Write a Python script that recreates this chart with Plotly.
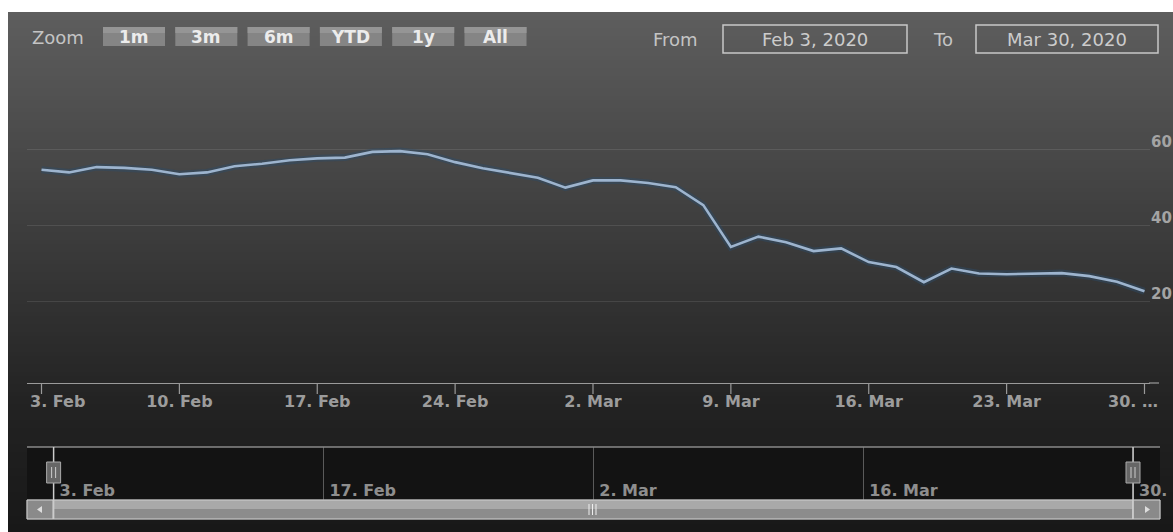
import plotly.graph_objects as go

# ---------------- data ----------------
dates = [
    "2020-02-03", "2020-02-04", "2020-02-05", "2020-02-06", "2020-02-07",
    "2020-02-10", "2020-02-11", "2020-02-12", "2020-02-13", "2020-02-14",
    "2020-02-17", "2020-02-18", "2020-02-19", "2020-02-20", "2020-02-21",
    "2020-02-24", "2020-02-25", "2020-02-26", "2020-02-27", "2020-02-28",
    "2020-03-02", "2020-03-03", "2020-03-04", "2020-03-05", "2020-03-06",
    "2020-03-09", "2020-03-10", "2020-03-11", "2020-03-12", "2020-03-13",
    "2020-03-16", "2020-03-17", "2020-03-18", "2020-03-19", "2020-03-20",
    "2020-03-23", "2020-03-24", "2020-03-25", "2020-03-26", "2020-03-27",
    "2020-03-30",
]
values = [
    54.8, 54.1, 55.5, 55.3, 54.8,
    53.6, 54.1, 55.7, 56.4, 57.3,
    57.8, 58.0, 59.5, 59.7, 58.9,
    56.8, 55.2, 53.9, 52.7, 50.1,
    52.0, 52.0, 51.3, 50.2, 45.5,
    34.5, 37.2, 35.7, 33.4, 34.1,
    30.5, 29.2, 25.2, 28.8, 27.5,
    27.3, 27.4, 27.6, 26.8, 25.3,
    22.8,
]
x_tick_dates = ["2020-02-03", "2020-02-10", "2020-02-17", "2020-02-24", "2020-03-02",
                "2020-03-09", "2020-03-16", "2020-03-23", "2020-03-30"]
x_tick_labels = ["3. Feb", "10. Feb", "17. Feb", "24. Feb", "2. Mar",
                 "9. Mar", "16. Mar", "23. Mar", "30. …"]
y_ticks = [20, 40, 60]
y_tick_labels = ["20", "40", "60"]
nav_tick_dates = ["2020-02-03", "2020-02-17", "2020-03-02", "2020-03-16", "2020-03-30"]
nav_tick_labels = ["3. Feb", "17. Feb", "2. Mar", "16. Mar", "30."]
zoom_buttons = ["1m", "3m", "6m", "YTD", "1y", "All"]
from_text = "Feb 3, 2020"
to_text = "Mar 30, 2020"

# ---------------- helpers ----------------
W, H = 1173, 532
FONT = "DejaVu Sans"
AXIS_FONT = dict(family=FONT, size=16, color="#9c9c9c", weight="bold")


def P(x):
    return x / W


def Q(y):
    return 1 - y / H


# first / last main labels are justified to the plot edges (as Highcharts does),
# so they are drawn as annotations; the middle ones are regular tick labels
main_ticktext = [""] + list(x_tick_labels[1:-1]) + [""]

nav_idx = [dates.index(d) for d in nav_tick_dates]
i_first = dates.index("2020-02-03")
i_last = dates.index("2020-03-30")

shapes = []
annotations = []

# chart background gradient (Highcharts gray theme look)
top, bottom, step = 12, 532, 4
for y0 in range(top, bottom, step):
    ym = y0 + step / 2
    if ym <= 400:
        c = 94 - (ym - 12) * 59 / 388
    else:
        c = 35 - (ym - 400) * 11 / 132
    c = int(round(c))
    shapes.append(dict(type="rect", xref="paper", yref="paper",
                       x0=P(8), x1=1, y0=Q(min(y0 + step, bottom)), y1=Q(y0),
                       fillcolor=f"rgb({c},{c},{c})", line=dict(width=0), layer="below"))

# navigator background
shapes.append(dict(type="rect", xref="paper", yref="paper",
                   x0=P(27), x1=P(1160), y0=Q(499), y1=Q(447),
                   fillcolor="#131313", line=dict(width=0), layer="below"))
# navigator top outline
shapes.append(dict(type="line", xref="paper", yref="paper",
                   x0=P(27), x1=P(1160), y0=Q(447), y1=Q(447),
                   line=dict(color="#8a8a8a", width=1.5), layer="above"))

# main x-axis tick marks (drawn at the tick categories) and axis-line end
for d in x_tick_dates:
    shapes.append(dict(type="line", xref="x", yref="paper",
                       x0=d, x1=d, y0=Q(394), y1=Q(383),
                       line=dict(color="#9a9a9a", width=1.2), layer="above"))
shapes.append(dict(type="line", xref="paper", yref="paper",
                   x0=P(1149), x1=P(1159), y0=Q(383), y1=Q(383),
                   line=dict(color="#9a9a9a", width=1.2), layer="above"))

# scrollbar track / bar / buttons
shapes.append(dict(type="rect", xref="paper", yref="paper",
                   x0=P(27), x1=P(1160), y0=Q(519), y1=Q(500),
                   fillcolor="#2a2a2a", line=dict(color="#777", width=1), layer="above"))
shapes.append(dict(type="rect", xref="paper", yref="paper",
                   x0=P(53), x1=P(1133), y0=Q(509), y1=Q(500),
                   fillcolor="#a9a9a9", line=dict(width=0), layer="above"))
shapes.append(dict(type="rect", xref="paper", yref="paper",
                   x0=P(53), x1=P(1133), y0=Q(519), y1=Q(509),
                   fillcolor="#8c8c8c", line=dict(width=0), layer="above"))
shapes.append(dict(type="rect", xref="paper", yref="paper",
                   x0=P(53), x1=P(1133), y0=Q(519), y1=Q(500),
                   fillcolor="rgba(0,0,0,0)", line=dict(color="#cfcfcf", width=1), layer="above"))
for bx0, bx1 in [(27, 53), (1133, 1160)]:
    shapes.append(dict(type="rect", xref="paper", yref="paper",
                       x0=P(bx0), x1=P(bx1), y0=Q(519), y1=Q(500),
                       fillcolor="#8a8a8a", line=dict(color="#cfcfcf", width=1), layer="above"))
# arrows
shapes.append(dict(type="path", xref="paper", yref="paper",
                   path=f"M {P(37)} {Q(509.5)} L {P(42)} {Q(506)} L {P(42)} {Q(513)} Z",
                   fillcolor="#dddddd", line=dict(width=0), layer="above"))
shapes.append(dict(type="path", xref="paper", yref="paper",
                   path=f"M {P(1150)} {Q(509.5)} L {P(1145)} {Q(506)} L {P(1145)} {Q(513)} Z",
                   fillcolor="#dddddd", line=dict(width=0), layer="above"))
# grip
for gx in (589, 592.5, 596):
    shapes.append(dict(type="line", xref="paper", yref="paper",
                       x0=P(gx), x1=P(gx), y0=Q(515), y1=Q(504),
                       line=dict(color="#eeeeee", width=1), layer="above"))

# navigator handles
for hi in (i_first, i_last):
    shapes.append(dict(type="line", xref="x2", yref="paper",
                       x0=hi, x1=hi, y0=Q(519), y1=Q(447),
                       line=dict(color="#cccccc", width=1.5), layer="above"))
    shapes.append(dict(type="rect", xref="x2", yref="paper", xsizemode="pixel",
                       xanchor=hi, x0=-7, x1=7, y0=Q(483), y1=Q(462),
                       fillcolor="#666666", line=dict(color="#aaaaaa", width=1), layer="above"))
    for off in (-2, 2):
        shapes.append(dict(type="line", xref="x2", yref="paper", xsizemode="pixel",
                           xanchor=hi, x0=off, x1=off, y0=Q(478), y1=Q(467),
                           line=dict(color="#cccccc", width=1), layer="above"))

# justified first / last x labels
annotations.append(dict(xref="paper", yref="paper", x=P(28), y=Q(401), xanchor="left",
                        yanchor="middle", text=f"<b>{x_tick_labels[0]}</b>",
                        showarrow=False, font=AXIS_FONT))
annotations.append(dict(xref="paper", yref="paper", x=P(1160), y=Q(401), xanchor="right",
                        yanchor="middle", text=f"<b>{x_tick_labels[-1]}</b>",
                        showarrow=False, font=AXIS_FONT))

# range selector: label + buttons
annotations.append(dict(xref="paper", yref="paper", x=P(30), y=Q(37), xanchor="left",
                        yanchor="middle", text="Zoom", showarrow=False,
                        font=dict(family=FONT, size=18, color="#c4c4c4")))
for k, lab in enumerate(zoom_buttons):
    bx = 103 + 72.3 * k
    shapes.append(dict(type="rect", xref="paper", yref="paper",
                       x0=P(bx), x1=P(bx + 62), y0=Q(46), y1=Q(27),
                       fillcolor="#858585", line=dict(width=0), layer="above"))
    shapes.append(dict(type="rect", xref="paper", yref="paper",
                       x0=P(bx), x1=P(bx + 62), y0=Q(33), y1=Q(27),
                       fillcolor="#959595", line=dict(width=0), layer="above"))
    annotations.append(dict(xref="paper", yref="paper", x=P(bx + 31), y=Q(37.5),
                            xanchor="center", yanchor="middle", text=f"<b>{lab}</b>",
                            showarrow=False,
                            font=dict(family=FONT, size=17, color="#ececec")))

# from / to inputs
annotations.append(dict(xref="paper", yref="paper", x=P(651), y=Q(39), xanchor="left",
                        yanchor="middle", text="From", showarrow=False,
                        font=dict(family=FONT, size=18, color="#c4c4c4")))
annotations.append(dict(xref="paper", yref="paper", x=P(931), y=Q(39), xanchor="left",
                        yanchor="middle", text="To", showarrow=False,
                        font=dict(family=FONT, size=18, color="#c4c4c4")))
for (bx0, bx1), txt in [((723, 907), from_text), ((976, 1158), to_text)]:
    shapes.append(dict(type="rect", xref="paper", yref="paper",
                       x0=P(bx0), x1=P(bx1), y0=Q(53), y1=Q(25),
                       fillcolor="rgba(0,0,0,0)", line=dict(color="#c8c8c8", width=1.5),
                       layer="above"))
    annotations.append(dict(xref="paper", yref="paper", x=P((bx0 + bx1) / 2), y=Q(39),
                            xanchor="center", yanchor="middle", text=txt, showarrow=False,
                            font=dict(family=FONT, size=18, color="#cccccc")))

# ---------------- traces ----------------
fig = go.Figure()
fig.add_trace(go.Scatter(x=dates, y=values, mode="lines", xaxis="x", yaxis="y",
                         line=dict(color="rgba(45,75,105,0.45)", width=7),
                         hoverinfo="skip", showlegend=False))
fig.add_trace(go.Scatter(x=dates, y=values, mode="lines", xaxis="x", yaxis="y",
                         line=dict(color="#9db4ce", width=2.6),
                         showlegend=False, name="Price"))

# ---------------- layout ----------------
fig.update_layout(
    template="none",
    width=W, height=H,
    autosize=False,
    margin=dict(l=0, r=0, t=0, b=0, pad=0, autoexpand=False),
    paper_bgcolor="#ffffff",
    plot_bgcolor="rgba(0,0,0,0)",
    showlegend=False,
    font=dict(family=FONT),
    xaxis=dict(
        type="category", domain=[P(27), P(1150)], anchor="y", automargin=False,
        range=[-0.526, 40.2],
        categoryorder="array", categoryarray=dates,
        tickmode="array", tickvals=x_tick_dates, ticktext=main_ticktext,
        showgrid=False, zeroline=False,
        showline=True, linecolor="#9a9a9a", linewidth=1.2,
        ticks="", ticklabelstandoff=4,
        tickfont=AXIS_FONT,
        fixedrange=True,
    ),
    yaxis=dict(
        domain=[Q(383), Q(85)], anchor="x", side="right", automargin=False,
        range=[-1.316, 77.1],
        tickmode="array", tickvals=y_ticks, ticktext=y_tick_labels,
        showgrid=True, gridcolor="rgba(255,255,255,0.1)", gridwidth=1,
        zeroline=False, showline=False, ticks="",
        ticklabelposition="outside", ticklabeloverflow="allow",
        ticklabelshift=-8, ticklabelstandoff=0,
        tickfont=dict(family=FONT, size=15, color="#a4a4a4", weight="bold"),
        fixedrange=True,
    ),
    xaxis2=dict(
        domain=[P(27), P(1160)], anchor="y2", automargin=False,
        range=[-0.986, 41.0],
        tickmode="array", tickvals=nav_idx, ticktext=nav_tick_labels,
        showgrid=True, gridcolor="#5a5a5a", gridwidth=1,
        zeroline=False, showline=False, ticks="",
        ticklabelposition="inside right", ticklabeloverflow="allow",
        ticklabelshift=6,
        tickfont=dict(family=FONT, size=16, color="#8e8e8e", weight="bold"),
        fixedrange=True,
    ),
    yaxis2=dict(
        domain=[Q(505), Q(447)], anchor="x2", range=[0, 1], automargin=False,
        showgrid=False, zeroline=False, showline=False, showticklabels=False,
        ticks="", fixedrange=True,
    ),
    shapes=shapes,
    annotations=annotations,
)

fig.write_html(
    "out.html",
    config={"displayModeBar": False},
    post_script=(
        "document.documentElement.style.margin='0';"
        "document.documentElement.style.overflow='hidden';"
        "document.body.style.margin='0';"
        "document.body.style.overflow='hidden';"
        "var gd=document.querySelector('.plotly-graph-div');"
        "gd.style.overflow='hidden';"
        "if(gd.parentElement){gd.parentElement.style.overflow='hidden';"
        "gd.parentElement.style.width='1173px';gd.parentElement.style.height='532px';}"
    ),
)
